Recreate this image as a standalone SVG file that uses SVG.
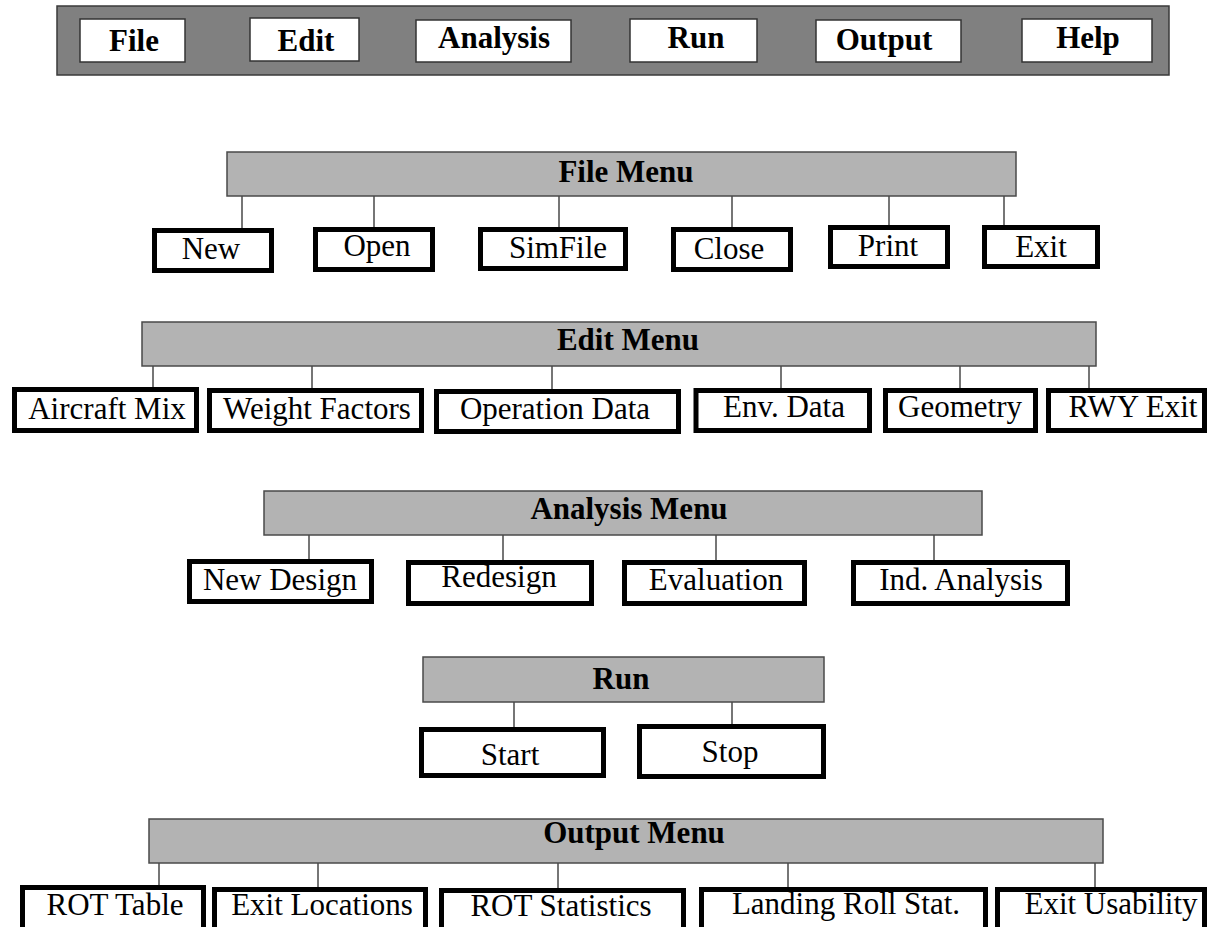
<svg xmlns="http://www.w3.org/2000/svg" width="1211" height="927" viewBox="0 0 1211 927">
  <style>
    text { font-family: "Liberation Serif", "Times New Roman", serif; font-size: 31px; fill: #000; text-anchor: middle; }
    .bold { font-weight: bold; }
    .menubar { fill: #808080; stroke: #3a3a3a; stroke-width: 1.5; }
    .btn { fill: #fff; stroke: #333; stroke-width: 1.5; }
    .head { fill: #b3b3b3; stroke: #4a4a4a; stroke-width: 1.5; }
    .item { fill: #fff; stroke: #000; stroke-width: 5; }
    .link { stroke: #4a4a4a; stroke-width: 1.5; fill: none; }
  </style>

  <!-- Application menu bar -->
  <g id="menubar">
    <rect class="menubar" x="57" y="6" width="1112" height="69"/>
  </g>
  <g id="btn-file"><rect class="btn" x="80" y="19" width="105" height="43"/><text class="bold" x="134" y="51">File</text></g>
  <g id="btn-edit"><rect class="btn" x="250" y="18" width="109" height="43"/><text class="bold" x="306" y="51">Edit</text></g>
  <g id="btn-analysis"><rect class="btn" x="416" y="20" width="155" height="42"/><text class="bold" x="494" y="48">Analysis</text></g>
  <g id="btn-run"><rect class="btn" x="630" y="19" width="127" height="43"/><text class="bold" x="696" y="48">Run</text></g>
  <g id="btn-output"><rect class="btn" x="816" y="20" width="145" height="42"/><text class="bold" x="884" y="50">Output</text></g>
  <g id="btn-help"><rect class="btn" x="1022" y="19" width="130" height="43"/><text class="bold" x="1088" y="48">Help</text></g>

  <!-- Connectors from each menu header to its items -->
  <g id="connectors">
    <path class="link" d="M242 196V228 M374 196V227 M559 196V227 M732 196V227 M889 196V225 M1004 196V225"/>
    <path class="link" d="M153 366V387 M312 366V388 M552 366V389 M781 366V388 M960 366V388 M1089 366V388"/>
    <path class="link" d="M309 535V559 M503 535V560 M716 535V560 M934 535V560"/>
    <path class="link" d="M514 702V727 M732 702V724"/>
    <path class="link" d="M159 863V885 M318 863V887 M558 863V888 M788 863V887 M1095 863V887"/>
  </g>

  <!-- File menu -->
  <g id="file-menu"><rect class="head" x="227" y="152" width="789" height="44"/><text class="bold" x="626" y="182">File Menu</text></g>
  <g id="file-new"><rect class="item" x="154.5" y="230.5" width="117" height="40"/><text x="211" y="259">New</text></g>
  <g id="file-open"><rect class="item" x="315.5" y="229.5" width="117" height="40"/><text x="377" y="256">Open</text></g>
  <g id="file-simfile"><rect class="item" x="480.5" y="229.5" width="145" height="39"/><text x="558" y="258">SimFile</text></g>
  <g id="file-close"><rect class="item" x="673.5" y="229.5" width="117" height="40"/><text x="729" y="259">Close</text></g>
  <g id="file-print"><rect class="item" x="830.5" y="227.5" width="117" height="39"/><text x="888" y="256">Print</text></g>
  <g id="file-exit"><rect class="item" x="984.5" y="227.5" width="113" height="39"/><text x="1041" y="257">Exit</text></g>

  <!-- Edit menu -->
  <g id="edit-menu"><rect class="head" x="142" y="322" width="954" height="44"/><text class="bold" x="628" y="350">Edit Menu</text></g>
  <g id="edit-aircraft"><rect class="item" x="14.5" y="389.5" width="182" height="41"/><text x="107" y="419">Aircraft Mix</text></g>
  <g id="edit-weight"><rect class="item" x="209.5" y="390.5" width="212" height="40"/><text x="317" y="419">Weight Factors</text></g>
  <g id="edit-operation"><rect class="item" x="436.5" y="391.5" width="242" height="40"/><text x="555" y="419">Operation Data</text></g>
  <g id="edit-env"><rect class="item" x="696" y="390.5" width="173.5" height="40"/><text x="784" y="417">Env. Data</text></g>
  <g id="edit-geometry"><rect class="item" x="885.5" y="390.5" width="150" height="40"/><text x="960" y="417">Geometry</text></g>
  <g id="edit-rwy"><rect class="item" x="1048.5" y="390.5" width="156" height="40"/><text x="1133" y="417">RWY Exit</text></g>

  <!-- Analysis menu -->
  <g id="analysis-menu"><rect class="head" x="264" y="491" width="718" height="44"/><text class="bold" x="629" y="519">Analysis Menu</text></g>
  <g id="analysis-new"><rect class="item" x="189.5" y="561.5" width="182" height="40"/><text x="280" y="590">New Design</text></g>
  <g id="analysis-redesign"><rect class="item" x="408.5" y="562.5" width="183" height="41"/><text x="499" y="587">Redesign</text></g>
  <g id="analysis-evaluation"><rect class="item" x="624.5" y="562.5" width="180" height="41"/><text x="716" y="590">Evaluation</text></g>
  <g id="analysis-ind"><rect class="item" x="853.5" y="562.5" width="214" height="41"/><text x="961" y="590">Ind. Analysis</text></g>

  <!-- Run menu -->
  <g id="run-menu"><rect class="head" x="423" y="657" width="401" height="45"/><text class="bold" x="621" y="689">Run</text></g>
  <g id="run-start"><rect class="item" x="421.5" y="729.5" width="182" height="46"/><text x="510" y="765">Start</text></g>
  <g id="run-stop"><rect class="item" x="639.5" y="726.5" width="184" height="50"/><text x="730" y="762">Stop</text></g>

  <!-- Output menu -->
  <g id="output-menu"><rect class="head" x="149" y="819" width="954" height="44"/><text class="bold" x="634" y="843">Output Menu</text></g>
  <g id="output-rot"><rect class="item" x="22.5" y="887.5" width="181" height="45"/><text x="115" y="915">ROT Table</text></g>
  <g id="output-exitloc"><rect class="item" x="214.5" y="889.5" width="211" height="45"/><text x="322" y="915">Exit Locations</text></g>
  <g id="output-rotstat"><rect class="item" x="441.5" y="890.5" width="242" height="45"/><text x="561" y="916">ROT Statistics</text></g>
  <g id="output-landing"><rect class="item" x="701.5" y="889.5" width="284" height="45"/><text x="846" y="914">Landing Roll Stat.</text></g>
  <g id="output-usability"><rect class="item" x="997.5" y="889.5" width="207" height="45"/><text x="1111" y="914">Exit Usability</text></g>
</svg>
